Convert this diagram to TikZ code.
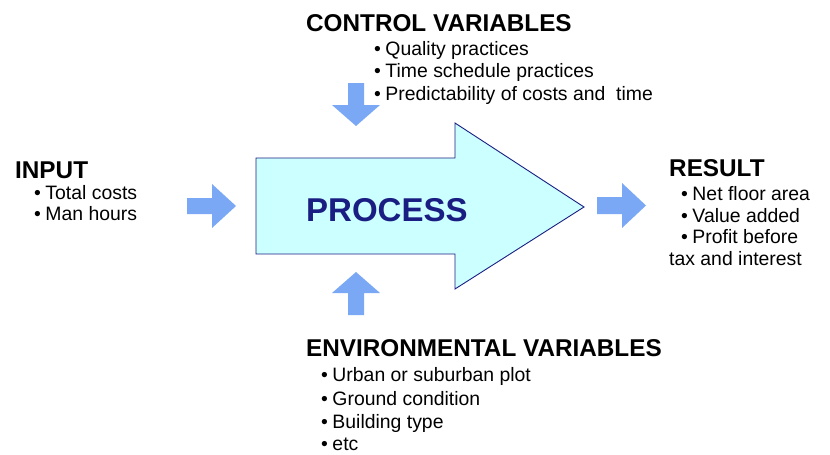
\documentclass[tikz,border=0pt]{standalone}
\usepackage{fontspec}
\setmainfont{Liberation Sans}
\definecolor{arrblue}{RGB}{122,168,245}
\definecolor{procfill}{RGB}{204,255,255}
\definecolor{navy}{RGB}{26,30,130}
\begin{document}
\begin{tikzpicture}[x=1pt,y=-1pt,
  head/.style={anchor=base west,inner sep=0pt,font=\fontsize{24.3}{27}\selectfont\bfseries},
  item/.style={anchor=base west,inner sep=0pt,font=\fontsize{19.4}{22}\selectfont},
  smallarrow/.style={fill=arrblue,draw=none}]
\useasboundingbox (0,0) rectangle (830,455);
% big process arrow
\draw[fill=procfill,draw=navy,line width=0.9pt,line join=miter]
  (256,158) -- (455,158) -- (455,123) -- (584,207) -- (455,289) -- (455,254) -- (256,254) -- cycle;
\node[anchor=base west,inner sep=0pt,text=navy,font=\fontsize{33}{36}\selectfont\bfseries] (proc) at (306,221.5) {PROCESS};
% small arrows
\fill[smallarrow] (187,198)--(212,198)--(212,184)--(236,206)--(212,228)--(212,214)--(187,214)--cycle;
\fill[smallarrow] (597,197)--(622,197)--(622,183)--(646,205.5)--(622,228)--(622,214)--(597,214)--cycle;
\fill[smallarrow] (348,83)--(364,83)--(364,105)--(380,105)--(356,126)--(332,105)--(348,105)--cycle;
\fill[smallarrow] (348,315)--(364,315)--(364,293)--(380,293)--(356,272)--(332,293)--(348,293)--cycle;
% control
\node[head] (ctl) at (306,31.5) {CONTROL VARIABLES};
\node[item] (c1) at (374,55) {•\hspace{4.5pt}Quality practices};
\node[item] (c2) at (374,77.5) {•\hspace{4.5pt}Time schedule practices};
\node[item] (c3) at (374,100.5) {•\hspace{4.5pt}Predictability of costs and \ time};
% input
\node[head] (inp) at (15,178) {INPUT};
\node[item] (i1) at (34,199.5) {•\hspace{4.5pt}Total costs};
\node[item] (i2) at (34,220.5) {•\hspace{4.5pt}Man hours};
% result
\node[head] (res) at (669,176.5) {RESULT};
\node[item] (r1) at (681,200.5) {•\hspace{4.5pt}Net floor area};
\node[item] (r2) at (681,222) {•\hspace{4.5pt}Value added};
\node[item] (r3) at (681,243.5) {•\hspace{4.5pt}Profit before};
\node[item] (r4) at (669,265) {tax and interest};
% environmental
\node[head] (env) at (306,356.5) {ENVIRONMENTAL VARIABLES};
\node[item] (e1) at (321,381.5) {•\hspace{4.5pt}Urban or suburban plot};
\node[item] (e2) at (321,405) {•\hspace{4.5pt}Ground condition};
\node[item] (e3) at (321,428) {•\hspace{4.5pt}Building type};
\node[item] (e4) at (321,450.5) {•\hspace{4.5pt}etc};
\end{tikzpicture}
\end{document}
